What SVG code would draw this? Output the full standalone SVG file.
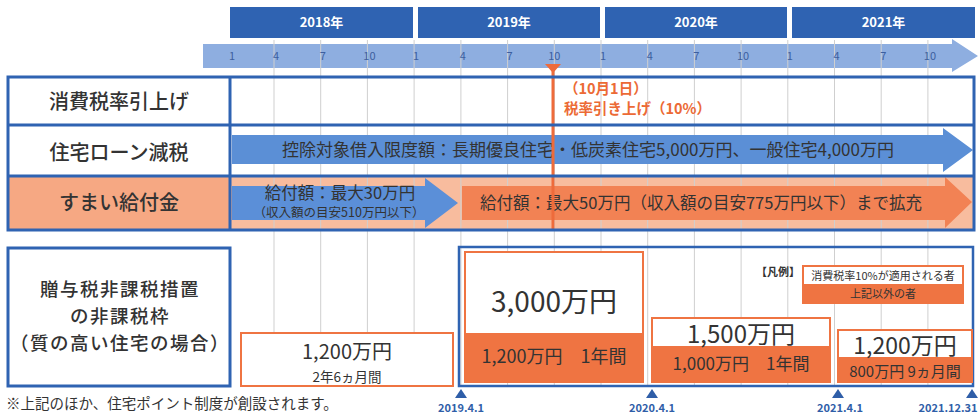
<svg xmlns="http://www.w3.org/2000/svg" width="979" height="414" viewBox="0 0 979 414">
<style>
text{font-family:"Noto Sans CJK JP","Noto Sans",sans-serif;fill:#333}
.yr{fill:#2f63b2}
.yt{fill:#fff;font-size:13px;font-weight:700;text-anchor:middle}
.mo{fill:#3d5f9e;font-size:11px;text-anchor:middle}
.grid{stroke:#cfcfcf;stroke-width:1}
.tb{fill:none;stroke:#2f63b2;stroke-width:3}
.lbl{font-size:20px;font-weight:500;text-anchor:middle}
.lbl2{font-size:18.5px;font-weight:500;text-anchor:middle;letter-spacing:1.5px}
.red{fill:#ec6a35;font-size:14.5px;font-weight:700}
.ob{fill:#fff;stroke:#ef7442;stroke-width:2}
.of{fill:#ef7442}
.c{text-anchor:middle}
.tri{fill:#2f5ea8}
.dt{fill:#2f5ea8;font-size:11px;font-weight:700;text-anchor:middle}
</style>

<g id="years">
<rect class="yr" x="230" y="7" width="183" height="31"/>
<rect class="yr" x="418" y="7" width="182" height="31"/>
<rect class="yr" x="605" y="7" width="182" height="31"/>
<rect class="yr" x="792" y="7" width="183" height="31"/>
<text class="yt" x="321.5" y="27">2018年</text>
<text class="yt" x="509" y="27">2019年</text>
<text class="yt" x="696" y="27">2020年</text>
<text class="yt" x="883.5" y="27">2021年</text>
</g>

<g id="row-backgrounds">
<rect x="8" y="77" width="966" height="153" fill="#fff"/>
<rect x="8" y="176" width="966" height="54" fill="#f8bc9e"/>
</g>

<g id="month-axis">
<path d="M203 44 H952 V39 L978 56 L952 72 V68 H203 Z" fill="#8eaee0"/>
</g>

<g id="gridlines">
<line class="grid" x1="274" y1="40" x2="274" y2="386"/>
<line class="grid" x1="320.7" y1="40" x2="320.7" y2="386"/>
<line class="grid" x1="367.4" y1="40" x2="367.4" y2="386"/>
<line class="grid" x1="414.1" y1="40" x2="414.1" y2="386"/>
<line class="grid" x1="460.9" y1="40" x2="460.9" y2="386"/>
<line class="grid" x1="507.6" y1="40" x2="507.6" y2="386"/>
<line class="grid" x1="554.3" y1="40" x2="554.3" y2="386"/>
<line class="grid" x1="601" y1="40" x2="601" y2="386"/>
<line class="grid" x1="647.7" y1="40" x2="647.7" y2="386"/>
<line class="grid" x1="694.4" y1="40" x2="694.4" y2="386"/>
<line class="grid" x1="741.1" y1="40" x2="741.1" y2="386"/>
<line class="grid" x1="787.8" y1="40" x2="787.8" y2="386"/>
<line class="grid" x1="834.5" y1="40" x2="834.5" y2="386"/>
<line class="grid" x1="881.2" y1="40" x2="881.2" y2="386"/>
<line class="grid" x1="927.9" y1="40" x2="927.9" y2="386"/>
</g>

<g id="month-labels">
<text class="mo" x="232" y="60">1</text>
<text class="mo" x="276" y="60">4</text>
<text class="mo" x="322.7" y="60">7</text>
<text class="mo" x="369.4" y="60">10</text>
<text class="mo" x="416.1" y="60">1</text>
<text class="mo" x="462.9" y="60">4</text>
<text class="mo" x="509.6" y="60">7</text>
<text class="mo" x="554.3" y="60">10</text>
<text class="mo" x="603" y="60">1</text>
<text class="mo" x="649.7" y="60">4</text>
<text class="mo" x="696.4" y="60">7</text>
<text class="mo" x="743.1" y="60">10</text>
<text class="mo" x="789.8" y="60">1</text>
<text class="mo" x="836.5" y="60">4</text>
<text class="mo" x="883.2" y="60">7</text>
<text class="mo" x="929.9" y="60">10</text>
</g>

<g id="label-cells">
<rect x="8" y="77" width="222" height="99" fill="#fff"/>
<rect x="8" y="176" width="222" height="54" fill="#f6a883"/>
<text class="lbl" x="119" y="109">消費税率引上げ</text>
<text class="lbl" x="119" y="160">住宅ローン減税</text>
<text class="lbl" x="119" y="210">すまい給付金</text>
</g>

<g id="loan-arrow">
<path d="M232 135 H943 V128 L973 150 L943 172 V164 H232 Z" fill="#5b8fd6"/>
<text class="c" x="588" y="156" font-size="17">控除対象借入限度額：長期優良住宅・低炭素住宅5,000万円、一般住宅4,000万円</text>
</g>

<g id="benefit-arrow-30">
<path d="M232 186 H425 V178 L458 203 L425 228 V220 H232 Z" fill="#5b8fd8"/>
<text class="c" x="340" y="199" font-size="16.5">給付額：最大30万円</text>
<text class="c" x="339" y="217" font-size="12.5">（収入額の目安510万円以下）</text>
</g>

<g id="benefit-arrow-50">
<path d="M462 186 H945 V177 L972 202 L945 228 V220 H462 Z" fill="#f28254"/>
<text class="c" x="701" y="209" font-size="16.5">給付額：最大50万円（収入額の目安775万円以下）まで拡充</text>
</g>

<g id="tax-hike">
<line x1="553" y1="68" x2="553" y2="230" stroke="#ee6b3b" stroke-width="3"/>
<polygon points="545,64 561,64 553,73" fill="#ee6b3b"/>
<text class="red" x="564" y="94">（10月1日）</text>
<text class="red" x="564" y="114">税率引き上げ（10%）</text>
</g>

<g id="table-borders">
<rect class="tb" x="8" y="77" width="966" height="153"/>
<line x1="8" y1="125" x2="974" y2="125" stroke="#2f63b2" stroke-width="3"/>
<line x1="8" y1="176" x2="974" y2="176" stroke="#2f63b2" stroke-width="3"/>
<line x1="230" y1="77" x2="230" y2="230" stroke="#2f63b2" stroke-width="3"/>
</g>

<g id="gift-label">
<rect x="8" y="248" width="222" height="138" fill="#fff" stroke="#2f63b2" stroke-width="3"/>
<text class="lbl2" x="120" y="296">贈与税非課税措置</text>
<text class="lbl2" x="120" y="323">の非課税枠</text>
<text class="lbl2" x="120" y="350">（質の高い住宅の場合）</text>
</g>

<g id="gift-frame">
<rect x="459" y="247" width="514" height="139" fill="none" stroke="#2f63b2" stroke-width="2.5"/>
</g>

<g id="box-2018">
<rect class="ob" x="241" y="333" width="212" height="53"/>
<text class="c" x="347" y="359" font-size="20">1,200万円</text>
<text class="c" x="347" y="382" font-size="13.5">2年6ヵ月間</text>
</g>

<g id="box-2019">
<rect class="ob" x="465" y="252" width="178" height="130"/>
<rect class="of" x="465" y="333" width="178" height="49"/>
<text class="c" x="554" y="312" font-size="28">3,000万円</text>
<text class="c" x="554" y="363" font-size="18">1,200万円　1年間</text>
</g>

<g id="box-2020">
<rect class="ob" x="652" y="318" width="178" height="64"/>
<rect class="of" x="652" y="346" width="178" height="36"/>
<text class="c" x="741" y="343" font-size="24">1,500万円</text>
<text class="c" x="741" y="370" font-size="17">1,000万円　1年間</text>
</g>

<g id="box-2021">
<rect class="ob" x="838" y="330" width="134" height="52"/>
<rect class="of" x="838" y="357" width="134" height="25"/>
<text class="c" x="905" y="354" font-size="23">1,200万円</text>
<text class="c" x="905" y="377" font-size="15">800万円 9ヵ月間</text>
</g>

<g id="legend">
<text class="c" x="778" y="276" font-size="11" font-weight="700">【凡例】</text>
<rect class="ob" x="803" y="266" width="160" height="37"/>
<rect class="of" x="803" y="284" width="160" height="19"/>
<text class="c" x="883" y="280" font-size="11">消費税率10%が適用される者</text>
<text class="c" x="883" y="298" font-size="11">上記以外の者</text>
</g>

<g id="dates">
<polygon class="tri" points="455,398 461,389 467,398"/>
<polygon class="tri" points="646,398 652,389 658,398"/>
<polygon class="tri" points="832,398 838,389 844,398"/>
<polygon class="tri" points="966,398 972,389 978,398"/>
<text class="dt" x="461" y="412">2019.4.1</text>
<text class="dt" x="652" y="412">2020.4.1</text>
<text class="dt" x="840" y="412">2021.4.1</text>
<text class="dt" x="948" y="412">2021.12.31</text>
</g>

<g id="footnote">
<text x="6" y="409" font-size="14.5">※上記のほか、住宅ポイント制度が創設されます。</text>
</g>
</svg>
